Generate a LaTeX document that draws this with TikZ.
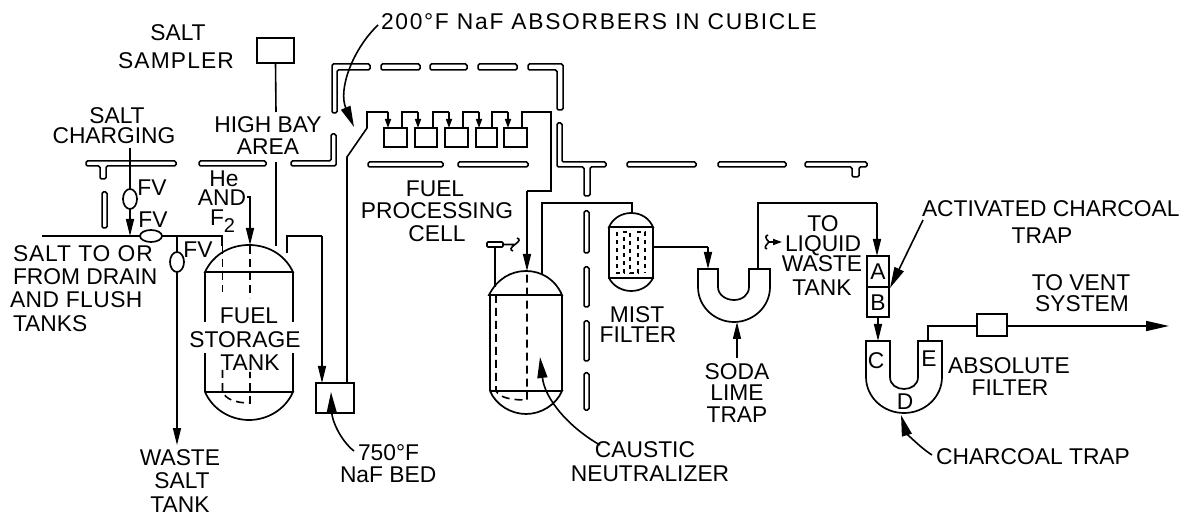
\documentclass[tikz,border=0pt]{standalone}
\usepackage{fontspec}
\setmainfont{Liberation Sans}
\usetikzlibrary{arrows.meta,shapes.geometric}
\tikzset{
  pipe/.style={draw=black,line width=1.6pt},
  flow/.style={pipe,-{Triangle[length=17pt,width=8pt]}},
  flowsm/.style={pipe,-{Triangle[length=9pt,width=6pt]}},
  flowbig/.style={pipe,-{Triangle[length=23pt,width=10pt]}},
  lead/.style={pipe,-{Triangle[length=21pt,width=10pt]}},
  wallslab/.style={draw=black,line width=1.5pt,fill=white,rounded corners=1.5pt},
  vessel/.style={draw=black,line width=1.7pt},
  hidden/.style={draw=black,line width=1.6pt,dash pattern=on 8pt off 5pt},
  eqbox/.style={draw=black,line width=1.7pt,fill=white,minimum width=0pt,minimum height=0pt,inner sep=0pt,outer sep=0pt,rectangle},
  lbl/.style={inner sep=0pt,outer sep=0pt,text height=16.3pt,text depth=0pt,font=\fontsize{22.8}{24}\selectfont,text=black},
  spaced/.style={font=\fontsize{22.8}{24}\selectfont\addfontfeature{LetterSpace=#1}},
  valve/.style={draw=black,line width=1.7pt,fill=white,ellipse,inner sep=0pt,outer sep=0pt}
}
\newcommand{\slab}[4]{\draw[wallslab] (#1,#2) rectangle (#3,#4);}
\begin{document}
\begin{tikzpicture}[x=1pt,y=-1pt]
\useasboundingbox (0,0) rectangle (1191,518);
\fill[white] (0,0) rectangle (1191,518);

% --- walls
\draw[wallslab] (86,161) -- (176,161) -- (176,166) -- (106,166) -- (106,179) -- (100,179) -- (100,166) -- (86,166) -- cycle;
\slab{199}{161}{266}{166}
\draw[wallslab] (291,161) -- (331,161) -- (331,134) -- (336,134) -- (336,166) -- (291,166) -- cycle;
\slab{102}{192}{107}{228}
\draw[wallslab] (370,64) -- (332,64) -- (332,113) -- (337,113) -- (337,70) -- (370,70) -- cycle;
\slab{381}{64}{420}{70}
\slab{430}{64}{467}{70}
\slab{478}{64}{517}{70}
\draw[wallslab] (528,64) -- (563,64) -- (563,110) -- (557,110) -- (557,70) -- (528,70) -- cycle;
\draw[wallslab] (557,123) -- (562,123) -- (562,162) -- (606,162) -- (606,167) -- (590,167) -- (590,196) -- (584,196) -- (584,167) -- (557,167) -- cycle;
\slab{627}{162}{696}{167}
\slab{718}{162}{786}{167}
\draw[wallslab] (805,162) -- (867,162) -- (867,167) -- (859,167) -- (859,177) -- (852,177) -- (852,167) -- (805,167) -- cycle;
\slab{368}{162}{443}{167}
\slab{458}{162}{528}{167}
\slab{584}{211}{589}{253}
\slab{584}{267}{589}{307}
\slab{584}{321}{589}{361}
\slab{584}{373}{589}{410}

% --- fuel storage tank
\draw[vessel] (205,272) .. controls (214,253) and (232,245) .. (249,245) .. controls (266,245) and (284,253) .. (293,272) -- cycle;
\draw[vessel] (205,272) -- (205,322) (293,272) -- (293,322);
\draw[vessel] (205,353) -- (205,392) (293,353) -- (293,392);
\draw[vessel] (205,392) -- (293,392) .. controls (285,410) and (267,420) .. (249,420) .. controls (231,420) and (213,410) .. (205,392);
\draw[hidden] (222.5,246) -- (222.5,292);
\draw[hidden] (250,246) -- (250,298);
\draw[hidden] (222.5,370) -- (222.5,392) .. controls (226,399) and (235,403) .. (250,403) -- (250,372);

% --- neutralizer
\draw[vessel] (489,295) .. controls (497,279) and (511,271) .. (526,271) .. controls (541,271) and (555,279) .. (562,295) -- cycle;
\draw[vessel] (490,295) -- (490,391) (562,295) -- (562,391);
\draw[vessel] (490,391) -- (562,391) .. controls (556,405) and (541,414) .. (526,414) .. controls (511,414) and (496,405) .. (490,391);
\draw[hidden] (496,295) -- (496,391) .. controls (500,397) and (508,400) .. (527,400) -- (527,271);

% --- mist filter
\draw[vessel] (609,227) .. controls (613,218) and (622,213) .. (631,213) .. controls (641,213) and (649,218) .. (653,227) -- cycle;
\draw[vessel] (609,227) -- (609,278) -- (653,278) -- (653,227);
\draw[vessel] (609,278) .. controls (613,286) and (622,291) .. (631,291) .. controls (641,291) and (649,286) .. (653,278);
\draw[draw=black,line width=1.5pt,dash pattern=on 4pt off 4pt]
  (617,232) -- (617,273) -- (624,273) -- (624,232) -- (630,232) -- (630,273) -- (638,273) -- (638,232) -- (645,232) -- (645,273);

% --- U traps
\draw[vessel] (698,269) -- (718,269) -- (718,287) .. controls (718,295) and (726,300) .. (734,300) .. controls (742,300) and (749,295) .. (749,287) -- (749,269) -- (770,269) -- (770,287) .. controls (770,307) and (753,322) .. (734,322) .. controls (715,322) and (698,307) .. (698,287) -- cycle;
\draw[vessel] (866,341) -- (890,341) -- (890,377) .. controls (890,385) and (897,389) .. (904,389) .. controls (911,389) and (918,385) .. (918,377) -- (918,341) -- (942,341) -- (942,377) .. controls (942,397) and (925,413) .. (904,413) .. controls (883,413) and (866,397) .. (866,377) -- cycle;

% --- boxes
\node[eqbox,minimum width=37pt,minimum height=25pt] (sampler) at (275.5,50.5) {};
\node[eqbox,minimum width=38pt,minimum height=30pt] (nafbed) at (335,398) {};
\node[eqbox,minimum width=23pt,minimum height=19pt] (abs1) at (395.5,137.5) {};
\node[eqbox,minimum width=22pt,minimum height=19pt] (abs2) at (426,137.5) {};
\node[eqbox,minimum width=23pt,minimum height=19pt] (abs3) at (456.5,137.5) {};
\node[eqbox,minimum width=21pt,minimum height=19pt] (abs4) at (486.5,137.5) {};
\node[eqbox,minimum width=23pt,minimum height=19pt] (abs5) at (515.5,137.5) {};
\node[eqbox,minimum width=22pt,minimum height=31pt] (trapA) at (878,271.5) {};
\node[eqbox,minimum width=22pt,minimum height=30pt] (trapB) at (878,302) {};
\node[eqbox,minimum width=30pt,minimum height=22pt] (absfilter) at (992,325) {};
\node[eqbox,rounded corners=1pt,minimum width=16pt,minimum height=5pt] (sidebox) at (495,244.5) {};

% --- pipes
\draw[pipe] (sampler.south) -- (276,112);
\draw[pipe] (276,162) -- (276,246);
\draw[pipe] (130,148) -- (130,189);
\draw[flow] (130,209) -- (130,236);
\draw[pipe] (42,236) -- (222,236) -- (222,246);
\draw[pipe] (177,236) -- (177,252);
\draw[flow] (177,272) -- (177,445);
\draw[flow] (247,197) -- (250,197) -- (250,245);
\draw[pipe] (287,253) -- (287,236) -- (322,236);
\draw[flow] (322,236) -- (322,383);
\draw[pipe] (347,383) -- (347,157) -- (367,128) -- (367,112) -- (388,112);
\draw[flowsm] (388,112) -- (388,128);
\draw[pipe] (402,128) -- (402,112) -- (418,112);
\draw[flowsm] (418,112) -- (418,128);
\draw[pipe] (433,128) -- (433,112) -- (449,112);
\draw[flowsm] (449,112) -- (449,128);
\draw[pipe] (463,128) -- (463,112) -- (479,112);
\draw[flowsm] (479,112) -- (479,128);
\draw[pipe] (492,128) -- (492,112) -- (508,112);
\draw[flowsm] (508,112) -- (508,128);
\draw[pipe] (522,128) -- (522,112) -- (551,112) -- (551,191) -- (527,191);
\draw[flow] (527,191) -- (527,271);
\draw[pipe] (sidebox.south) -- (495,287);
\draw[pipe] (sidebox.east) -- (515,244.5) .. controls (520,241) and (520,239) .. (517,238) (515,244.5) .. controls (510,248) and (510,250) .. (513,251);
\draw[pipe] (542,274) -- (542,203) -- (632,203) -- (632,213);
\draw[pipe] (653,247) -- (708,247);
\draw[flow] (708,247) -- (708,269);
\draw[flow] (737,358) -- (737,322);
\draw[pipe] (758,269) -- (758,203) -- (877,203);
\draw[flow] (877,203) -- (877,256);
\draw[flow] (trapB.south) -- (878,341);
\draw[pipe] (928,341) -- (928,326) -- (977,326);
\draw[flowbig] (1007,326) -- (1169,326);
\draw[flowsm] (769,242) -- (782,242);
\draw[pipe] (769,242) .. controls (765,238) and (765,236) .. (768,235) (769,242) .. controls (765,246) and (764,248) .. (767,249);

% --- valves
\node[valve,minimum width=14pt,minimum height=20pt] (fv1) at (130,199) {};
\node[valve,minimum width=22pt,minimum height=12pt] (fv2) at (151,236) {};
\node[valve,minimum width=14pt,minimum height=20pt] (fv3) at (177,262) {};

% --- leader arrows
\draw[lead] (378,25) .. controls (352,50) and (338,90) .. (354,127);
\draw[lead] (354,451) .. controls (340,440) and (332,420) .. (331,392);
\draw[lead] (600,445) .. controls (570,428) and (545,400) .. (540,357);
\draw[lead] (923,220) -- (890,288);
\draw[lead] (932,455) .. controls (918,446) and (906,432) .. (901,415);

% --- labels
\node[lbl] (tSalt) at (178,32) {SALT};
\node[lbl,spaced=5] (tSampler) at (176,60) {SAMPLER};
\node[lbl] (tCharge1) at (117,115) {SALT};
\node[lbl] (tCharge2) at (114,135) {CHARGING};
\node[lbl] (tBay1) at (268,124) {HIGH BAY};
\node[lbl] (tBay2) at (268,146) {AREA};
\node[lbl,spaced=7.5,anchor=west] (tAbsorb) at (381,21) {200°F NaF ABSORBERS IN CUBICLE};
\node[lbl] (tFV1) at (152,187) {FV};
\node[lbl] (tFV2) at (153,219) {FV};
\node[lbl] (tFV3) at (198,249) {FV};
\node[lbl] (tHe) at (224,178) {He};
\node[lbl] (tAnd) at (222,197) {AND};
\node[lbl,anchor=base west,text height=0pt] (tF) at (210,226) {F\raisebox{-7pt}{\fontsize{20}{20}\selectfont 2}};
\node[lbl,spaced=4,anchor=west] (tSalt2) at (13,253) {SALT TO OR};
\node[lbl,anchor=west] (tDrain) at (13,276) {FROM DRAIN};
\node[lbl,spaced=2,anchor=west] (tFlush) at (10,299) {AND FLUSH};
\node[lbl,anchor=west] (tTanks) at (13,323) {TANKS};
\node[lbl] (tFuel) at (249,315) {FUEL};
\node[lbl] (tStorage) at (245,339) {STORAGE};
\node[lbl] (tTank) at (250,362) {TANK};
\node[lbl] (tWaste) at (180,457) {WASTE};
\node[lbl] (tSalt3) at (182,480) {SALT};
\node[lbl] (tTank2) at (180,504) {TANK};
\node[lbl,anchor=west] (t750) at (358,452) {750°F};
\node[lbl,anchor=west] (tNaf) at (340,474) {NaF BED};
\node[lbl] (tFPC1) at (435,188) {FUEL};
\node[lbl] (tFPC2) at (437,210) {PROCESSING};
\node[lbl] (tFPC3) at (437,233) {CELL};
\node[lbl] (tMist) at (637,314) {MIST};
\node[lbl] (tMist2) at (638,334) {FILTER};
\node[lbl] (tSoda) at (737,371) {SODA};
\node[lbl] (tLime) at (737,392) {LIME};
\node[lbl] (tTrap) at (737,414) {TRAP};
\node[lbl] (tCaustic) at (645,449) {CAUSTIC};
\node[lbl] (tNeut) at (650,473) {NEUTRALIZER};
\node[lbl] (tTo) at (823,223) {TO};
\node[lbl] (tLiquid) at (823,243) {LIQUID};
\node[lbl] (tLW) at (822,263) {WASTE};
\node[lbl] (tLT) at (822,287) {TANK};
\node[lbl,anchor=west] (tAct) at (922,208) {ACTIVATED CHARCOAL};
\node[lbl] (tActT) at (1042,235) {TRAP};
\node[lbl] (tVent) at (1081,282) {TO VENT};
\node[lbl] (tSys) at (1082,303) {SYSTEM};
\node[lbl] (tAbs) at (1009,365) {ABSOLUTE};
\node[lbl] (tFil) at (1010,387) {FILTER};
\node[lbl] (tChar) at (1033,456) {CHARCOAL TRAP};
\node[lbl] (lA) at (878,271) {A};
\node[lbl] (lB) at (878,302) {B};
\node[lbl] (lC) at (876,360) {C};
\node[lbl] (lE) at (929,358) {E};
\node[lbl] (lD) at (905,401) {D};
\end{tikzpicture}
\end{document}
